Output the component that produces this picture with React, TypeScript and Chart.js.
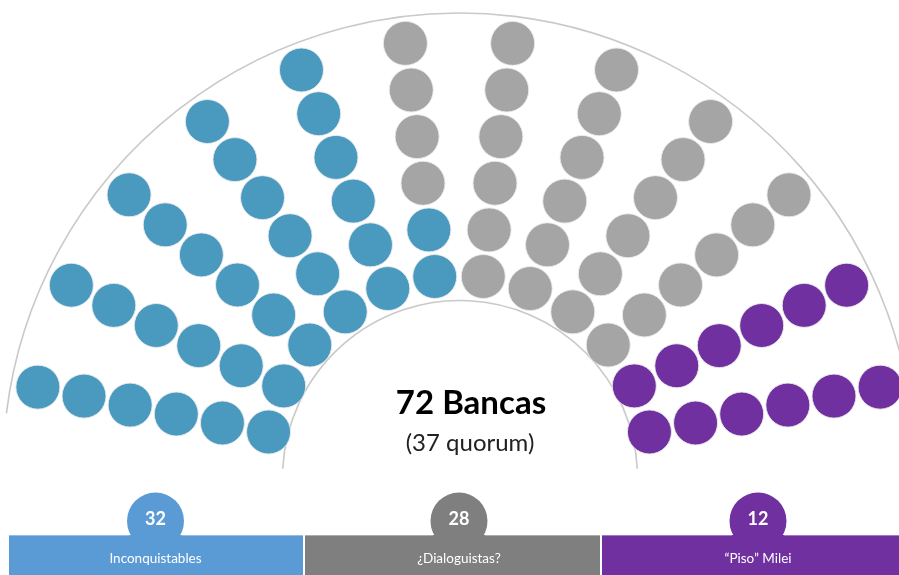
import React, { useEffect, useRef } from "react";
import { Chart, registerables } from "chart.js";

Chart.register(...registerables);

// ---- data ----
const groups = ["Inconquistables", "¿Dialoguistas?", "“Piso” Milei"];
const seatCounts = [32, 28, 12];
const seatColors = ["#4A9AC0", "#A5A5A5", "#7030A0"];
const barColors = ["#5B9BD5", "#7F7F7F", "#7030A0"];
const totalLabel = "72 Bancas";
const quorumLabel = "(37 quorum)";
const spokes = 12;
const seatsPerSpoke = 6;

// ---- layout (geometry, not data) ----
const CX = 459;
const CY = 469;
const R_IN = 194;
const R_STEP = 47;
const A0 = 11;
const A1 = 169;

function buildSeats() {
  const pts: { x: number; y: number; g: number }[] = [];
  const bounds: number[] = [];
  let acc = 0;
  seatCounts.forEach((c) => {
    acc += c;
    bounds.push(acc);
  });
  for (let k = 0; k < spokes; k++) {
    const ang = ((A0 + (k * (A1 - A0)) / (spokes - 1)) * Math.PI) / 180;
    for (let j = 0; j < seatsPerSpoke; j++) {
      const idx = k * seatsPerSpoke + j;
      const r = R_IN + j * R_STEP;
      const g = bounds.findIndex((b) => idx < b);
      pts.push({ x: CX - r * Math.cos(ang), y: CY - r * Math.sin(ang), g });
    }
  }
  return pts;
}

const FONT = "Lato, 'Open Sans', sans-serif";

const decorPlugin = {
  id: "decor",
  beforeDatasetsDraw(chart: any) {
    const { ctx, scales } = chart;
    const px = (v: number) => scales.x.getPixelForValue(v);
    const py = (v: number) => scales.y.getPixelForValue(v);
    ctx.save();
    ctx.strokeStyle = "#C9C9C9";
    ctx.lineWidth = 1.6;
    // outer arc
    ctx.beginPath();
    ctx.arc(px(CX), py(CY), 456, (187 * Math.PI) / 180, 2 * Math.PI);
    ctx.stroke();
    // inner arc
    ctx.beginPath();
    ctx.arc(px(460), py(478), 177.5, (183 * Math.PI) / 180, (357 * Math.PI) / 180);
    ctx.stroke();
    ctx.restore();
  },
  afterDatasetsDraw(chart: any) {
    const { ctx, scales } = chart;
    const px = (v: number) => scales.x.getPixelForValue(v);
    const py = (v: number) => scales.y.getPixelForValue(v);
    ctx.save();
    ctx.textAlign = "center";
    ctx.textBaseline = "alphabetic";
    ctx.fillStyle = "#000";
    ctx.font = `bold 33px ${FONT}`;
    ctx.fillText(totalLabel, px(471), py(414));
    ctx.fillStyle = "#222";
    ctx.font = `24px ${FONT}`;
    ctx.fillText(quorumLabel, px(470), py(451));

    // bottom bars
    const bx = [9, 305, 602];
    const bw = [294, 295, 297];
    const cxs = [155.5, 459, 758];
    const top = 535;
    groups.forEach((name, i) => {
      ctx.fillStyle = barColors[i];
      ctx.fillRect(px(bx[i]), py(top), bw[i], 575 - top);
      ctx.beginPath();
      ctx.arc(px(cxs[i]), py(521), 28.5, 0, Math.PI * 2);
      ctx.fill();
      ctx.strokeStyle = "rgba(255,255,255,0.35)";
      ctx.lineWidth = 1;
      ctx.beginPath();
      ctx.moveTo(px(bx[i]), py(top) + 0.5);
      ctx.lineTo(px(cxs[i]) - 26, py(top) + 0.5);
      ctx.moveTo(px(cxs[i]) + 26, py(top) + 0.5);
      ctx.lineTo(px(bx[i] + bw[i]), py(top) + 0.5);
      ctx.stroke();
      ctx.fillStyle = "#FFFFFF";
      ctx.font = `bold 18px ${FONT}`;
      ctx.textBaseline = "middle";
      ctx.fillText(String(seatCounts[i]), px(cxs[i]), py(519));
      ctx.font = `13.5px ${FONT}`;
      ctx.textBaseline = "alphabetic";
      ctx.fillText(name, px(cxs[i]), py(563));
    });
    ctx.restore();
  },
};

export default function App() {
  const ref = useRef<HTMLCanvasElement | null>(null);
  useEffect(() => {
    document.body.style.margin = "0";
    const seats = buildSeats();
    const datasets = groups.map((name, gi) => ({
      label: name,
      data: seats.filter((s) => s.g === gi).map((s) => ({ x: s.x, y: s.y })),
      backgroundColor: seatColors[gi],
      borderColor: "rgba(235,235,235,0.9)",
      borderWidth: 1,
      pointRadius: 22,
      pointHoverRadius: 22,
      clip: false as any,
    }));
    const chart = new Chart(ref.current as HTMLCanvasElement, {
      type: "scatter",
      data: { datasets },
      options: {
        animation: false,
        responsive: true,
        maintainAspectRatio: false,
        layout: { padding: 0, autoPadding: false },
        events: [],
        plugins: { legend: { display: false }, tooltip: { enabled: false } },
        scales: {
          x: { type: "linear", min: 0, max: 899, display: false },
          y: { type: "linear", min: 0, max: 575, reverse: true, display: false },
        },
      },
      plugins: [decorPlugin],
    });
    return () => chart.destroy();
  }, []);
  return (
    <div style={{ position: "absolute", left: 0, top: 0, width: 899, height: 575, background: "#fff" }}>
      <canvas ref={ref} />
    </div>
  );
}
